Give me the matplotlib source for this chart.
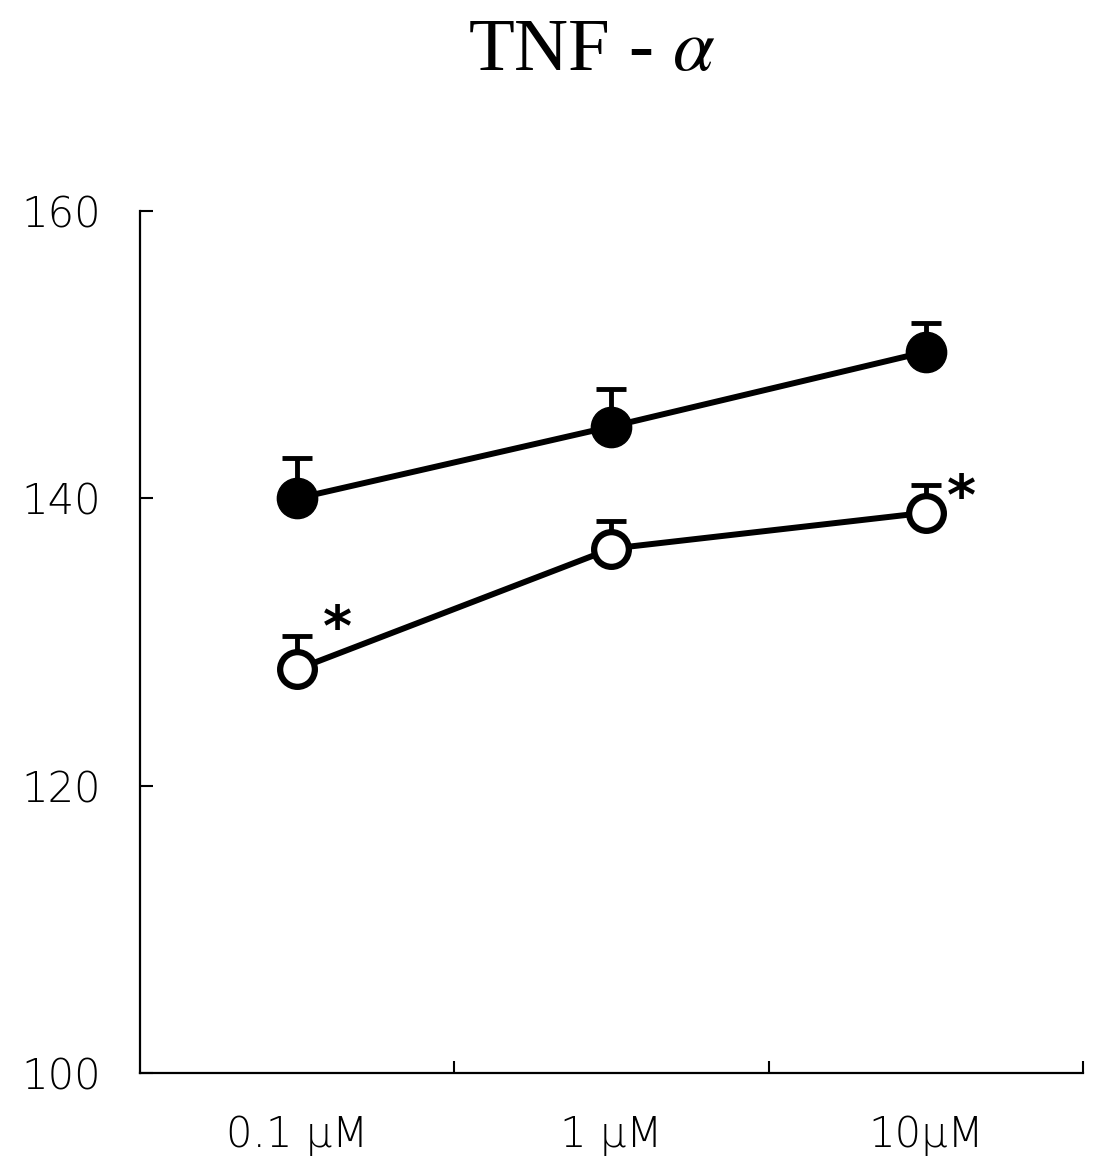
import numpy as np
import matplotlib.pyplot as plt

plt.rcParams['mathtext.fontset'] = 'stix'

doses = ['0.1 \u03bcM', '1 \u03bcM', '10\u03bcM']
filled_vals = [140.0, 145.0, 150.2]
filled_err = [2.8, 2.6, 2.0]
open_vals = [128.1, 136.5, 139.0]
open_err = [2.3, 1.9, 1.9]
star_idx = [0, 2]
star_offsets = [(29, 28), (26, 10)]

x = np.arange(len(doses))

fig = plt.figure(figsize=(11, 11.62), dpi=100)
ax = fig.add_axes([0.1273, 0.0766, 0.8572, 0.7418])

# filled series
ax.errorbar(x, filled_vals, yerr=[np.zeros(3), filled_err], fmt='none',
            ecolor='black', elinewidth=3.5, capsize=11, capthick=3.5, zorder=2)
ax.plot(x, filled_vals, color='black', lw=4.3, marker='o', ms=29,
        mfc='black', mec='black', zorder=3)

# open series
ax.errorbar(x, open_vals, yerr=[np.zeros(3), open_err], fmt='none',
            ecolor='black', elinewidth=3.5, capsize=11, capthick=3.5, zorder=2)
ax.plot(x, open_vals, color='black', lw=4.3, marker='o', ms=25,
        mfc='white', mec='black', mew=4.5, zorder=3)

for i, off in zip(star_idx, star_offsets):
    ax.annotate('*', (x[i], open_vals[i]), xytext=off, textcoords='offset points',
                fontsize=40, fontweight='bold', ha='center', va='center',
                family='DejaVu Sans')

ax.set_xlim(-0.5, 2.5)
ax.set_ylim(100, 160)
ax.set_yticks([100, 120, 140, 160])
ax.set_xticks(x)
ax.set_xticklabels(doses)
ax.set_xticks([0.5, 1.5, 2.5], minor=True)
ax.tick_params(axis='x', which='major', length=0, pad=30, labelsize=30)
ax.tick_params(axis='x', which='minor', direction='in', length=9, width=1.5)
ax.tick_params(axis='y', direction='in', length=9, width=1.5, pad=28, labelsize=30)
for lab in ax.get_xticklabels() + ax.get_yticklabels():
    lab.set_family('DejaVu Sans')
    lab.set_fontweight('light')

ax.spines['top'].set_visible(False)
ax.spines['right'].set_visible(False)
ax.spines['left'].set_linewidth(1.6)
ax.spines['bottom'].set_linewidth(1.6)

fig.text(0.538, 0.955, 'TNF - $\\alpha$', ha='center', va='center',
         fontsize=54, family='Liberation Serif')

fig.savefig('out.png', dpi=100)
